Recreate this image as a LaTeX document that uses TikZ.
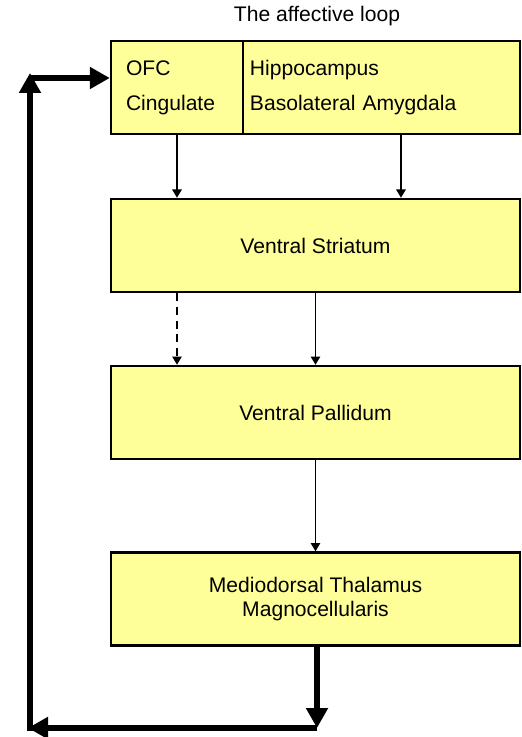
\documentclass[tikz,border=0pt]{standalone}
\usepackage{fontspec}
\setmainfont{Liberation Sans}
\usetikzlibrary{arrows.meta}

\definecolor{boxyellow}{HTML}{FFFF99}

\begin{document}
\begin{tikzpicture}[x=0.03cm,y=0.03cm,
    area/.style={draw=black,line width=0.07cm,fill=boxyellow,inner sep=0pt,
      minimum height=2.79cm,font=\fontsize{18}{20.4}\selectfont,align=center},
    toprow/.style={area,align=left,font=\fontsize{18}{29.8}\selectfont},
    thinarrow/.style={line width=0.055cm,-{Triangle[length=0.25cm,width=0.28cm]}},
    looparrow/.style={line width=0.2cm,-{Triangle[length=0.6cm,width=0.63cm]}}]
        \clip (0,0) rectangle (521,-737);
        \node[font=\fontsize{18}{20.4}\selectfont] (title) at (317,-16) {The affective loop};
        \node[toprow,minimum width=3.96cm,text width=3.06cm] (cortex) at (177,-87.5) {OFC\\Cingulate};
        \node[toprow,minimum width=8.31cm,text width=7.89cm] (limbic) at (381.5,-87.5) {Hippocampus\\Basolateral Amygdala};
        \node[area,minimum width=12.27cm] (striatum) at (315.5,-245.5) {Ventral Striatum};
        \node[area,minimum width=12.27cm] (pallidum) at (315.5,-412.5) {Ventral Pallidum};
        \node[area,minimum width=12.27cm] (thalamus) at (315.5,-599) {Mediodorsal Thalamus\\Magnocellularis};
        \coordinate (amyg) at (401,-134);
        \coordinate (cornerR) at (317,-728);
        \coordinate (cornerL) at (28,-728);
        \coordinate (loopBot) at (30,-731);
        \coordinate (loopTop) at (30,-73);
        \coordinate (loopTurn) at (30,-78);
        \draw[thinarrow] (cortex.south) -- (cortex.south |- striatum.north);
        \draw[thinarrow] (amyg) -- (amyg |- striatum.north);
        \draw[thinarrow,dash pattern=on 0.24cm off 0.17cm] (cortex.south |- striatum.south) -- (cortex.south |- pallidum.north);
        \draw[thinarrow] (striatum.south) -- (pallidum.north);
        \draw[thinarrow] (pallidum.south) -- (thalamus.north);
        \draw[looparrow] (thalamus.south -| cornerR) -- (cornerR);
        \draw[looparrow] (cornerR) -- (cornerL);
        \draw[looparrow] (loopBot) -- (loopTop);
        \draw[looparrow] (loopTurn) -- (loopTurn -| cortex.west);
\end{tikzpicture}
\end{document}
